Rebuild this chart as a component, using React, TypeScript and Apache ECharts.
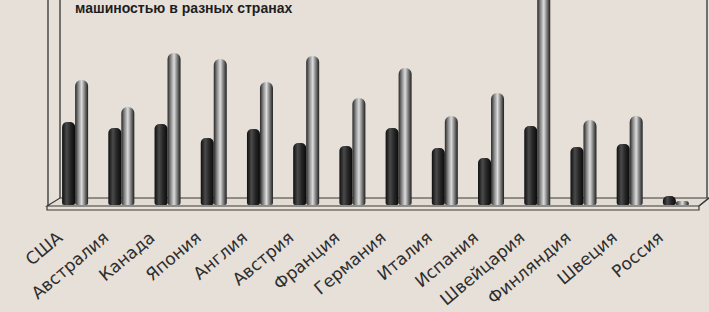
import React, { useEffect, useRef } from "react";
import * as echarts from "echarts";

const countries = [
  "США", "Австралия", "Канада", "Япония", "Англия", "Австрия", "Франция",
  "Германия", "Италия", "Испания", "Швейцария", "Финляндия", "Швеция", "Россия",
];
const darkSeries = [83, 77, 81, 67, 76, 62, 59, 77, 57, 47, 79, 58, 61, 9];
const lightSeries = [125, 98, 152, 146, 123, 149, 107, 137, 89, 112, 260, 85, 89, 4];
const titleText = "машиностью в разных странах";

const W = 709;
const H = 312;
const GRID_BOTTOM = 107;
const Y_MAX = H - GRID_BOTTOM;

export default function App() {
  const ref = useRef<HTMLDivElement>(null);
  useEffect(() => {
    if (!ref.current) return;
    const chart = echarts.init(ref.current, null, { renderer: "svg", width: W, height: H });
    const darkGrad = new echarts.graphic.LinearGradient(0, 0, 1, 0, [
      { offset: 0, color: "#0e0e0e" },
      { offset: 0.35, color: "#4a4a4a" },
      { offset: 0.65, color: "#262626" },
      { offset: 1, color: "#0a0a0a" },
    ]);
    const lightGrad = new echarts.graphic.LinearGradient(0, 0, 1, 0, [
      { offset: 0, color: "#262626" },
      { offset: 0.25, color: "#8a8a8a" },
      { offset: 0.5, color: "#dcdcdc" },
      { offset: 0.75, color: "#7a7a7a" },
      { offset: 1, color: "#1e1e1e" },
    ]);
    const lightData = lightSeries.map((v) =>
      v > Y_MAX ? { value: v, itemStyle: { borderRadius: 0 } } : v
    );
    chart.setOption({
      animation: false,
      backgroundColor: "#e6e0d8",
      grid: { left: 52, right: 10, top: 0, bottom: GRID_BOTTOM, containLabel: false },
      xAxis: {
        type: "category",
        data: countries,
        axisLine: { show: false },
        axisTick: { show: false },
        axisLabel: {
          rotate: 40,
          interval: 0,
          margin: 17,
          padding: [0, 20, 0, 0],
          fontSize: 17,
          fontFamily: "DejaVu Sans, Verdana, sans-serif",
          color: "#2e2e2e",
        },
      },
      yAxis: {
        type: "value",
        min: 0,
        max: Y_MAX,
        show: false,
        splitLine: { show: false },
      },
      graphic: [
        {
          type: "polygon",
          shape: { points: [[47, 206], [60, 198], [709, 198], [699, 206]] },
          style: { fill: "#e2dcd3", stroke: "#3a3a3a", lineWidth: 1.2 },
          z: -1,
        },
        {
          type: "polyline",
          shape: { points: [[47, 206], [47, 210], [699, 210], [699, 206], [709, 198]] },
          style: { fill: "none", stroke: "#3a3a3a", lineWidth: 1.2 },
          z: -1,
        },
        {
          type: "line",
          shape: { x1: 48, y1: 0, x2: 48, y2: 206 },
          style: { stroke: "#333", lineWidth: 1.3 },
          z: -1,
        },
        {
          type: "line",
          shape: { x1: 60, y1: 0, x2: 60, y2: 198 },
          style: { stroke: "#333", lineWidth: 1.3 },
          z: -1,
        },
        {
          type: "line",
          shape: { x1: 707, y1: 0, x2: 707, y2: 198 },
          style: { stroke: "#333", lineWidth: 1.3 },
          z: -1,
        },
        {
          type: "text",
          x: 75,
          y: 1,
          style: {
            text: titleText,
            font: "bold 14px 'Liberation Sans', Arial, sans-serif",
            fill: "#1e1e1e",
          },
        },
      ],
      series: [
        {
          type: "bar",
          data: darkSeries,
          barWidth: 13,
          barGap: "0%",
          clip: true,
          itemStyle: { color: darkGrad, borderRadius: [5, 5, 2, 2] },
        },
        {
          type: "bar",
          data: lightData,
          barWidth: 13,
          clip: true,
          itemStyle: { color: lightGrad, borderRadius: [6, 6, 2, 2] },
        },
      ],
    });
    return () => chart.dispose();
  }, []);
  return (
    <div
      ref={ref}
      style={{ position: "fixed", left: 0, top: 0, width: W, height: H, background: "#e6e0d8" }}
    />
  );
}
